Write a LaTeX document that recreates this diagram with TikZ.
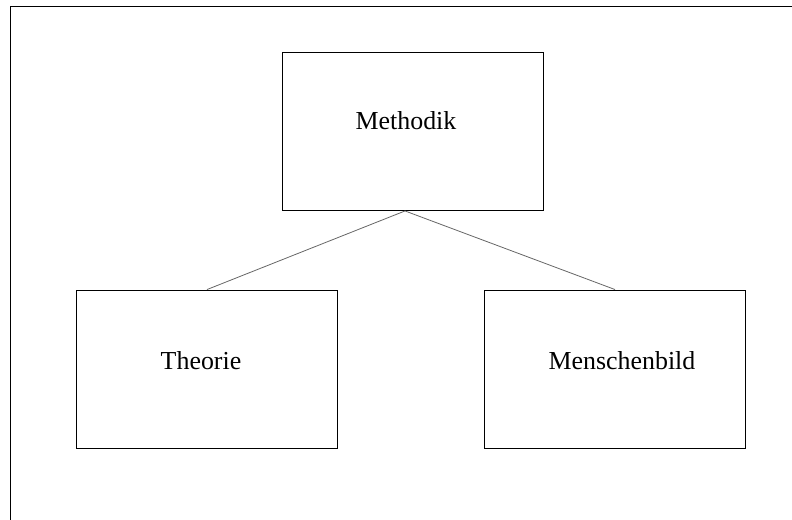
\documentclass[tikz,border=0pt]{standalone}
\usepackage{fontspec}
\setmainfont{Liberation Serif}
\tikzset{
  box/.style={draw,line width=0.9bp,minimum width=261bp,minimum height=158bp,inner sep=0pt},
  lbl/.style={font=\fontsize{26}{31}\selectfont,inner sep=0pt},
  link/.style={draw=black!60,line width=0.8bp}
}
\begin{document}
\begin{tikzpicture}[x=1bp,y=-1bp]
          \useasboundingbox (0,0) rectangle (792,520);
          \coordinate (bl) at (10,520);
          \coordinate (tl) at (10,7);
          \coordinate (tr) at (792,7);
          \draw[line width=1bp] (bl) -- (tl) -- (tr);
          \node[box] (meth) at (412.5,131.5) {};
          \node[lbl] (methtxt) at (406,121) {Methodik};
          \node[box] (theo) at (207,369) {};
          \node[lbl] (theotxt) at (201,361) {Theorie};
          \node[box] (mensch) at (615,369) {};
          \node[lbl] (menschtxt) at (622,361) {Menschenbild};
          \coordinate (top) at ([xshift=-7.5bp]meth.south);
          \draw[link] (top) -- (theo.north);
          \draw[link] (top) -- (mensch.north);
        \end{tikzpicture}
\end{document}
